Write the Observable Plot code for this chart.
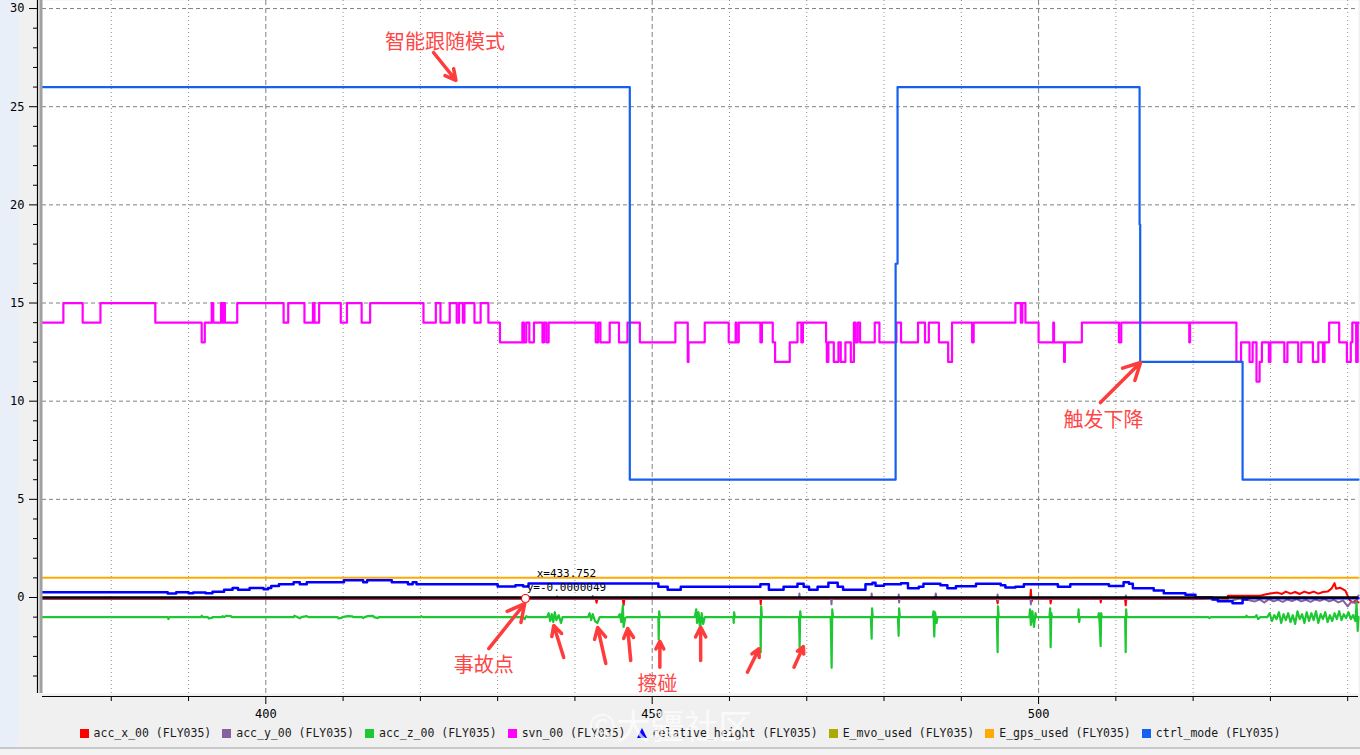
<!DOCTYPE html>
<html><head><meta charset="utf-8">
<script src="https://cdn.jsdelivr.net/npm/d3@7"></script>
<script src="https://cdn.jsdelivr.net/npm/@observablehq/plot@0.6"></script>
<style>
body{margin:0;width:1360px;height:755px;overflow:hidden;background:linear-gradient(to right,#e9eff8 0,#e9eff8 18px,#f0f0f0 18px);position:relative;font-family:"DejaVu Sans Mono",monospace}
#legend{display:flex;justify-content:center;gap:11px;height:16px;line-height:16px;font-size:11.5px;color:#1a1a1a;margin-left:0}
#legend .it{display:flex;align-items:center;gap:5px;white-space:pre}
#legend .sw{width:9px;height:9px;display:inline-block}
#legend .tri{width:0;height:0;border-left:5px solid transparent;border-right:5px solid transparent;border-bottom:10px solid #0000ff}
#bottom{position:absolute;left:0;top:747px;width:1360px;height:8px;border-top:2px solid #c8c8c8;background:#f3f3f3}
#wm{position:absolute;left:588px;top:700px;font-size:34px;color:rgba(255,255,255,0.7);font-family:"Noto Sans CJK SC",sans-serif;pointer-events:none}
</style></head>
<body>
<div id="chart"></div>
<div id="legend"></div>
<div id="bottom"></div>
<div id="wm">©大疆社区</div>
<script>
// ---- data ----
const xDomain = [371.1, 541.4];
const yDomain = [-4.89, 30.41];
const xMajorTicks = [400, 450, 500];
const xMinorTicks = [380, 390, 410, 420, 430, 440, 460, 470, 480, 490, 510, 520, 530, 540];
const yMajorTicks = [0, 5, 10, 15, 20, 25, 30];
const yMinorTicks = [-4,-3,-2,-1,1,2,3,4,6,7,8,9,11,12,13,14,16,17,18,19,21,22,23,24,26,27,28,29];

const seriesNames = ["acc_x_00 (FLY035)","acc_y_00 (FLY035)","acc_z_00 (FLY035)","svn_00 (FLY035)","relative_height (FLY035)","E_mvo_used (FLY035)","E_gps_used (FLY035)","ctrl_mode (FLY035)"];
const seriesColors = ["#ff0000","#8462a0","#1ec832","#ff00ff","#0000ff","#aaaa00","#ffaa00","#1560f0"];

// ctrl_mode (step)
const ctrlMode = [[371.1,26],[447.1,6],[481.5,17],[481.75,26],[513.07,19],[513.15,12],[526.4,6],[541.4,6]];

// svn_00 (step)
const svn = [[371.0,14],[373.8,15],[376.3,14],[378.6,15],[385.7,14],[391.7,13],[392.1,14],[393.0,15],[393.2,14],[394.2,15],[394.4,14],[394.5,15],[394.7,14],[396.3,15],[402.3,14],[402.9,15],[405.0,14],[406.1,15],[406.3,14],[406.9,15],[409.7,14],[410.5,15],[412.4,14],[413.5,15],[420.4,14],[422.0,15],[422.6,14],[423.8,15],[424.7,14],[425.0,15],[425.5,14],[425.7,15],[427.0,14],[427.8,15],[428.8,14],[430.3,13],[433.2,14],[433.4,13],[433.7,14],[434.1,13],[434.7,14],[435.8,13],[436.0,14],[436.3,13],[436.6,14],[442.7,13],[443.0,14],[443.3,13],[444.5,14],[445.7,13],[446.8,14],[448.4,13],[453.0,14],[454.6,12],[454.7,13],[456.8,14],[459.9,13],[460.8,14],[460.9,13],[461.2,14],[464.0,13],[464.2,14],[465.6,13],[465.9,12],[467.8,13],[468.8,14],[469.3,13],[469.5,14],[472.5,13],[472.6,12],[472.8,13],[473.5,12],[474.1,13],[474.4,12],[475.0,13],[475.7,12],[476.1,14],[476.3,13],[476.6,14],[476.9,13],[478.8,14],[479.4,13],[481.6,14],[482.2,13],[484.4,14],[485.3,13],[485.8,14],[487.1,13],[488.3,12],[488.8,14],[491.4,13],[491.6,14],[497.0,15],[497.7,14],[497.9,15],[498.3,14],[500.0,13],[501.9,14],[502.0,13],[503.3,12],[503.4,13],[505.6,14],[510.4,13],[510.7,14],[519.5,13],[519.6,14],[525.6,12],[526.2,13],[527.3,12],[527.7,13],[528.2,11],[528.6,12],[528.9,13],[529.8,12],[530.0,13],[531.8,12],[532.2,13],[533.6,12],[534.0,13],[535.5,12],[536.2,13],[536.8,12],[537.0,13],[537.6,14],[538.9,13],[539.9,12],[540.4,13],[540.6,14],[541.1,12],[541.3,14],[541.4,14]];

// relative_height (step)
const relHeight = [[371.1,0.27],[387.3,0.2],[388.4,0.27],[390.0,0.22],[390.6,0.26],[392.2,0.22],[393.1,0.29],[394.6,0.39],[395.7,0.49],[396.4,0.39],[397.9,0.48],[399.7,0.42],[400.3,0.48],[400.7,0.59],[401.7,0.68],[403.6,0.78],[404.4,0.68],[405.3,0.78],[410.1,0.88],[412.6,0.78],[413.1,0.88],[416.3,0.78],[418.4,0.68],[419.0,0.78],[419.5,0.68],[430.0,0.56],[432.3,0.62],[433.3,0.56],[434.0,0.71],[450.8,0.55],[452.0,0.39],[453.7,0.55],[464.0,0.68],[465.1,0.39],[467.0,0.55],[468.8,0.70],[469.6,0.55],[470.3,0.39],[471.4,0.55],[472.8,0.75],[474.0,0.55],[474.7,0.39],[477.6,0.68],[478.5,0.75],[478.9,0.60],[480.0,0.68],[482.2,0.73],[483.1,0.47],[484.5,0.55],[485.1,0.70],[487.3,0.62],[488.2,0.47],[489.3,0.57],[491.9,0.70],[495.1,0.63],[495.7,0.51],[497.0,0.55],[498.1,0.68],[502.5,0.55],[504.1,0.68],[509.1,0.59],[511.0,0.78],[511.7,0.70],[512.2,0.47],[514.9,0.36],[516.2,0.22],[519.0,0.14],[520.3,0.0],[522.5,-0.1],[523.2,-0.19],[525.1,-0.29],[526.4,-0.1],[527.0,-0.04],[541.4,-0.04]];

// E_gps_used
const gpsUsed = [[371.1,1],[541.4,1]];

// acc_z_00
const accZ = [[371.1,-1.0],[387.3,-1.0],[387.4,-1.1],[387.5,-1.0],[391.6,-1.0],[391.7,-0.93],[391.9,-1.0],[392.5,-1.0],[392.6,-1.06],[393.0,-1.04],[393.1,-1.0],[394.3,-1.0],[394.4,-0.95],[394.6,-1.0],[394.9,-0.93],[395.5,-0.95],[395.6,-1.0],[403.6,-1.0],[403.7,-0.93],[404.2,-1.02],[404.4,-1.06],[404.6,-1.0],[405.3,-0.95],[405.5,-1.0],[409.3,-1.0],[409.4,-1.06],[409.8,-1.04],[409.9,-1.0],[410.6,-0.95],[411.2,-0.96],[411.3,-1.0],[412.5,-1.0],[412.6,-1.05],[412.8,-1.0],[413.2,-0.95],[413.9,-0.94],[414.0,-1.0],[414.5,-1.05],[414.6,-1.0],[420.0,-1.0],[420.1,-0.95],[420.3,-1.0],
[433.3,-1.0],[433.5,-1.1],[433.7,-0.95],[433.9,-1.0],[436.4,-1.0],[436.6,-0.8],[436.8,-1.2],[437.0,-0.85],[437.2,-1.25],[437.4,-0.75],[437.6,-1.15],[437.9,-0.9],[438.2,-1.3],[438.4,-1.0],
[441.7,-1.0],[441.9,-0.8],[442.1,-1.15],[442.3,-0.85],[442.6,-1.2],[442.9,-1.3],[443.2,-1.0],
[445.6,-1.0],[445.8,-0.85],[446.0,-1.25],[446.2,-0.4],[446.3,-1.5],[446.5,-1.05],[446.7,-1.0],
[450.8,-1.0],[450.84,-2.14],[450.9,-0.7],[451.0,-1.0],
[455.5,-1.0],[455.7,-0.6],[455.8,-1.3],[456.0,-0.75],[456.2,-1.6],[456.4,-0.8],[456.6,-1.35],[456.8,-1.0],
[460.5,-1.0],[460.55,-1.3],[460.6,-0.75],[460.7,-1.0],
[464.0,-1.0],[464.04,-2.79],[464.1,-0.45],[464.2,-1.0],
[469.0,-1.0],[469.08,-2.53],[469.15,-0.7],[469.25,-1.0],
[473.1,-1.0],[473.22,-3.58],[473.3,-0.6],[473.4,-1.0],
[478.3,-1.0],[478.4,-2.1],[478.45,-0.55],[478.55,-1.0],
[481.8,-1.0],[481.89,-1.95],[481.95,-0.55],[482.05,-1.0],
[486.3,-1.0],[486.4,-0.7],[486.5,-1.99],[486.6,-0.75],[486.8,-1.3],[486.9,-1.0],
[494.6,-1.0],[494.7,-2.79],[494.75,-0.45],[494.85,-1.0],
[498.8,-1.0],[498.9,-0.6],[499.0,-1.4],[499.2,-0.7],[499.4,-1.5],[499.6,-0.8],[499.7,-1.0],
[501.4,-1.0],[501.5,-0.55],[501.56,-2.53],[501.65,-0.8],[501.75,-1.0],
[505.1,-1.0],[505.18,-0.6],[505.25,-1.25],[505.35,-1.0],
[507.7,-1.0],[507.8,-0.8],[507.9,-1.3],[508.03,-2.48],[508.1,-0.8],[508.2,-1.0],
[511.2,-1.0],[511.27,-2.79],[511.33,-0.6],[511.4,-1.0],
[522.0,-1.0],[522.1,-1.05],[522.3,-1.0],[526.8,-1.0],[526.9,-0.93],[527.1,-1.0],[528.0,-1.0],[528.2,-0.9],[528.4,-1.1],[528.7,-1.0],
[529.6,-1.0],[529.9,-0.8],[530.2,-1.2],[530.5,-0.9],[530.8,-1.1],[531.1,-0.75],[531.4,-1.3],[531.7,-0.85],[532.0,-1.15],[532.3,-0.8],[532.6,-1.25],[532.9,-0.9],[533.2,-1.35],[533.5,-0.7],[533.8,-1.1],[534.1,-0.85],[534.4,-1.3],[534.7,-0.75],[535.0,-1.2],[535.3,-0.8],[535.6,-1.15],[535.9,-0.7],[536.2,-1.3],[536.5,-0.85],[536.8,-1.1],[537.1,-0.75],[537.4,-1.25],[537.7,-0.9],[538.0,-1.2],[538.3,-0.8],[538.6,-1.1],[538.9,-0.7],[539.2,-1.15],[539.5,-0.85],[539.8,-1.05],[540.1,-0.75],[540.4,-1.1],[540.7,-0.9],[541.0,-1.2],[541.15,-0.3],[541.3,-1.7],[541.4,-1.0]];

// acc_x_00
const accX = [[371.1,-0.08],[442.7,-0.08],[442.8,-0.27],[442.9,-0.08],[446.2,-0.08],[446.3,-0.4],[446.4,-0.08],[464.0,-0.08],[464.04,-0.35],[464.1,-0.08],[494.6,-0.08],[494.7,-0.3],[494.8,-0.08],[498.9,-0.08],[499.0,0.4],[499.1,-0.2],[499.2,-0.08],[501.5,-0.08],[501.56,-0.3],[501.65,-0.08],[508.0,-0.08],[508.05,-0.25],[508.1,-0.08],[511.2,-0.08],[511.27,-0.4],[511.35,-0.08],[524.5,-0.08],[524.5,0.09],[528.7,0.09],[529.3,0.15],[530.0,0.2],[530.9,0.25],[531.5,0.18],[532.0,0.3],[532.6,0.2],[533.2,0.28],[533.8,0.18],[534.4,0.3],[535.0,0.22],[535.6,0.3],[536.2,0.2],[536.8,0.28],[537.4,0.3],[537.9,0.45],[538.3,0.73],[538.5,0.45],[539.0,0.5],[539.7,0.35],[540.2,-0.1],[540.6,-0.25],[541.1,-0.15],[541.4,-0.25]];

// acc_y_00
const accY = [[371.1,-0.05],[437.6,-0.05],[437.7,0.05],[437.8,-0.05],[442.2,-0.05],[442.3,0.08],[442.4,-0.05],[469.0,-0.05],[469.05,0.2],[469.1,-0.05],[473.15,-0.05],[473.2,-0.35],[473.25,-0.05],[478.35,-0.05],[478.4,0.2],[478.45,-0.05],[481.85,-0.05],[481.9,0.15],[481.95,-0.25],[482.0,-0.05],[486.6,-0.05],[486.7,0.2],[486.8,-0.05],[494.65,-0.05],[494.7,0.15],[494.75,-0.15],[494.8,-0.05],[498.95,-0.05],[499.0,-0.35],[499.05,-0.05],[511.25,-0.05],[511.3,0.1],[511.35,-0.05],[521.0,-0.05],[523.0,-0.1],[525.0,-0.15],[526.0,-0.05],[527.0,-0.12],[528.0,-0.2],[528.6,-0.1],[529.2,-0.25],[529.8,-0.08],[530.4,-0.2],[531.0,-0.12],[531.6,-0.22],[532.2,-0.1],[532.8,-0.18],[533.4,-0.08],[534.0,-0.2],[534.6,-0.12],[535.2,-0.22],[535.8,-0.1],[536.4,-0.17],[537.0,-0.08],[537.6,-0.2],[538.2,-0.12],[538.8,-0.25],[539.4,-0.15],[540.0,-0.45],[540.5,-0.2],[541.0,-0.3],[541.4,0.1]];

// cursor readout
const cursorPoint = [[433.6,-0.05]];
const cursorText = [{x:438.9,y:1.22,t:"x=433.752"},{x:438.9,y:0.51,t:"y=-0.0000049"}];

// annotations
const notes = [
  {x:423.2,y:28.27,t:"智能跟随模式"},
  {x:508.4,y:9.02,t:"触发下降"},
  {x:428.2,y:-3.46,t:"事故点"},
  {x:450.7,y:-4.43,t:"擦碰"}
];
const arrows = [
  {x1:421.7,y1:27.76,x2:424.6,y2:26.34},
  {x1:508.0,y1:9.93,x2:513.2,y2:11.97},
  {x1:428.85,y1:-2.6,x2:433.5,y2:-0.31},
  {x1:438.55,y1:-3.06,x2:437.26,y2:-1.43},
  {x1:443.99,y1:-3.36,x2:442.95,y2:-1.53},
  {x1:447.22,y1:-3.21,x2:446.83,y2:-1.58},
  {x1:450.99,y1:-3.55,x2:450.99,y2:-2.23},
  {x1:456.27,y1:-3.21,x2:456.27,y2:-1.51},
  {x1:462.32,y1:-3.81,x2:463.82,y2:-2.61},
  {x1:468.35,y1:-3.55,x2:469.56,y2:-2.5}
];

// ---- chart ----
const mono = "DejaVu Sans Mono";
const chart = Plot.plot({
  width: 1360, height: 725,
  marginLeft: 42, marginRight: 2, marginTop: 0, marginBottom: 32,
  x: {domain: xDomain, axis: null},
  y: {domain: yDomain, axis: null},
  style: {background: "transparent", fontFamily: mono, fontSize: "12px", color: "#000", overflow: "visible"},
  marks: [
    Plot.frame({fill: "white", stroke: "none"}),
    Plot.gridY(yMajorTicks.filter(d => d > 0), {stroke: "#808080", strokeOpacity: 1, strokeDasharray: "4,3"}),
    Plot.gridX(xMinorTicks, {stroke: "#909090", strokeOpacity: 1, strokeDasharray: "1,3"}),
    Plot.gridX(xMajorTicks, {stroke: "#808080", strokeOpacity: 1, strokeDasharray: "5,3"}),
    Plot.line(accX, {x: d => d[0], y: d => d[1], stroke: seriesColors[0], strokeWidth: 2}),
    Plot.line(accY, {x: d => d[0], y: d => d[1], stroke: seriesColors[1], strokeWidth: 2}),
    Plot.line(accZ, {x: d => d[0], y: d => d[1], stroke: seriesColors[2], strokeWidth: 2.2}),
    Plot.line(svn, {x: d => d[0], y: d => d[1], stroke: seriesColors[3], strokeWidth: 2.2, curve: "step-after"}),
    Plot.line(relHeight, {x: d => d[0], y: d => d[1], stroke: seriesColors[4], strokeWidth: 2.5, curve: "step-after"}),
    Plot.line(gpsUsed, {x: d => d[0], y: d => d[1], stroke: seriesColors[6], strokeWidth: 2}),
    Plot.ruleY([0], {stroke: "#000", strokeWidth: 2.5}),
    Plot.line(ctrlMode, {x: d => d[0], y: d => d[1], stroke: seriesColors[7], strokeWidth: 2.2, curve: "step-after"}),
    Plot.dot(cursorPoint, {x: d => d[0], y: d => d[1], r: 4, fill: "white", stroke: "#ff0000", strokeWidth: 1.2}),
    Plot.text(cursorText, {x: "x", y: "y", text: "t", fontSize: 11, fill: "#000", fontFamily: mono}),
    Plot.arrow(arrows, {x1: "x1", y1: "y1", x2: "x2", y2: "y2", stroke: "#ff3c3c", strokeWidth: 3.5, headLength: 13, headAngle: 55}),
    Plot.text(notes, {x: "x", y: "y", text: "t", fontSize: 20, fill: "#ff4646", fontFamily: "Noto Sans CJK SC"}),
    // axes
    Plot.ruleX([xDomain[0]], {stroke: "#a0a0a0", strokeWidth: 3, dx: -1.5}),
    Plot.ruleX([xDomain[0]], {stroke: "#000", strokeWidth: 1.2, dx: -5}),
    Plot.axisY({ticks: yMajorTicks, tickSize: 8, tickPadding: 5, dx: -5, fontSize: 12, fontFamily: mono, stroke: "#000"}),
    Plot.axisY({ticks: yMinorTicks, tickSize: 4, dx: -5, tickFormat: () => "", stroke: "#000"}),
    Plot.ruleY([yDomain[0]], {stroke: "#000", strokeWidth: 1.2, dy: 3}),
    Plot.axisX({ticks: xMajorTicks, tickSize: 8, tickPadding: 5, dy: 3, fontSize: 12, fontFamily: mono, stroke: "#000"}),
    Plot.axisX({ticks: xMinorTicks, tickSize: 5, dy: 3, tickFormat: () => "", stroke: "#000"})
  ]
});
document.getElementById("chart").appendChild(chart);

// legend
const legend = document.getElementById("legend");
seriesNames.forEach((n, i) => {
  const it = document.createElement("div");
  it.className = "it";
  const sw = document.createElement("span");
  if (i === 4) { sw.className = "tri"; }
  else { sw.className = "sw"; sw.style.background = seriesColors[i]; }
  it.appendChild(sw);
  const t = document.createElement("span");
  t.textContent = n;
  it.appendChild(t);
  legend.appendChild(it);
});
</script>
</body></html>
